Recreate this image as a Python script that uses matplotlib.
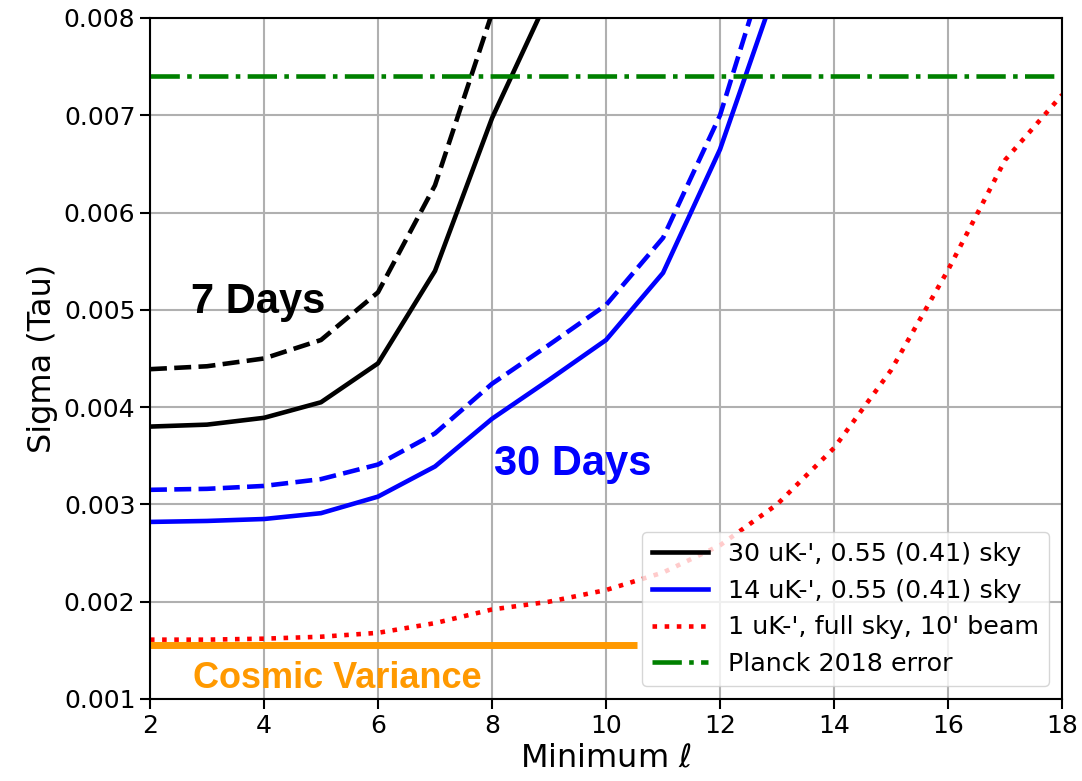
import matplotlib.pyplot as plt
import numpy as np

# minimum ell values
ell = [2, 3, 4, 5, 6, 7, 8, 9, 10, 11, 12, 13, 14, 15, 16, 17, 18]

# 7 days, 30 uK-'
black_055 = [0.00380, 0.00382, 0.00389, 0.00405, 0.00445, 0.00540, 0.00697, 0.00823]
black_041 = [0.00439, 0.00442, 0.00450, 0.00469, 0.00518, 0.00628, 0.00805]
# 30 days, 14 uK-'
blue_055 = [0.00282, 0.00283, 0.00285, 0.00291, 0.00308, 0.00339, 0.00388, 0.00428,
            0.00469, 0.00538, 0.00665, 0.00834]
blue_041 = [0.00315, 0.00316, 0.00319, 0.00326, 0.00341, 0.00373, 0.00424, 0.00464,
            0.00505, 0.00574, 0.00700, 0.00889]
# 1 uK-', full sky
red_full = [0.00161, 0.00161, 0.00162, 0.00164, 0.00168, 0.00178, 0.00192, 0.00200,
            0.00212, 0.00230, 0.00258, 0.00300, 0.00358, 0.00438, 0.00541, 0.00654, 0.00721]
planck_err = 0.0074
cosmic_var = 0.00156
cosmic_ell = [2, 10.55]

fig = plt.figure(figsize=(10.82, 7.81), dpi=100)
ax = fig.add_axes([0.1386, 0.105, 0.843, 0.872])

lw = 3.3
ax.plot(ell[:len(black_055)], black_055, color='black', lw=lw, label="30 uK-', 0.55 (0.41) sky")
ax.plot(ell[:len(black_041)], black_041, color='black', lw=lw, ls='--')
ax.plot(ell[:len(blue_055)], blue_055, color='blue', lw=lw, label="14 uK-', 0.55 (0.41) sky")
ax.plot(ell[:len(blue_041)], blue_041, color='blue', lw=lw, ls='--')
ax.plot(ell, red_full, color='red', lw=lw, ls=':', label="1 uK-', full sky, 10' beam")
ax.axhline(planck_err, color='green', lw=lw, ls='-.', label='Planck 2018 error')
ax.plot(cosmic_ell, [cosmic_var, cosmic_var], color='#ff9900', lw=5, solid_capstyle='butt')

ax.text(3.89, 0.00508, '7 Days', color='black', fontsize=30, fontweight='bold',
        family='Liberation Sans', ha='center', va='center')
ax.text(9.42, 0.00342, '30 Days', color='blue', fontsize=30, fontweight='bold',
        family='Liberation Sans', ha='center', va='center')
ax.text(5.28, 0.00121, 'Cosmic Variance', color='#ff9900', fontsize=26, fontweight='bold',
        family='Liberation Sans', ha='center', va='center')

ax.set_xlim(2, 18)
ax.set_ylim(0.001, 0.008)
ax.set_xticks(np.arange(2, 19, 2))
ax.set_yticks(np.arange(0.001, 0.0081, 0.001))
ax.set_yticklabels(['%.3f' % v for v in np.arange(0.001, 0.0081, 0.001)])
ax.tick_params(labelsize=18, width=1.5, length=7)
for s in ax.spines.values():
    s.set_linewidth(1.5)
ax.grid(True, color='#b0b0b0', lw=1.5)
ax.set_axisbelow(True)

ax.set_xlabel(r'Minimum $\ell$', fontsize=23)
ax.set_ylabel('Sigma (Tau)', fontsize=23)
ax.legend(loc='lower right', fontsize=18.3, handlelength=2.2)

plt.savefig('out.png', dpi=100)
